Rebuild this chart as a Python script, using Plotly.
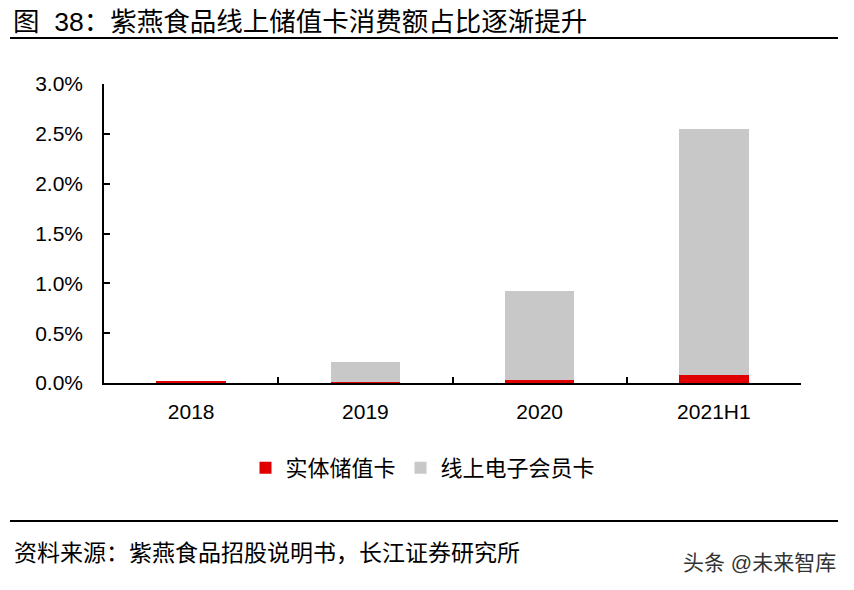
import plotly.graph_objs as go

# data (share of consumption, in %)
periods = ["2018", "2019", "2020", "2021H1"]
physical_card = [0.015, 0.015, 0.03, 0.085]     # 实体储值卡
online_card = [0.0, 0.195, 0.89, 2.465]         # 线上电子会员卡
y_ticks = [0, 0.5, 1.0, 1.5, 2.0, 2.5, 3.0]

FONT = "Liberation Sans, Arial, Noto Sans CJK SC, sans-serif"
RED = "#E00000"
GREY = "#C8C8C8"

# the page body has an 8px margin, so work in screen pixels and shift
OFF = 8
L, R, T, B = 104, 801, 84, 383
W, H = 854, 590


def px_x(x):
    return (x - L) / (R - L)


def px_y(y):
    return (B - y) / (B - T)


fig = go.Figure()
fig.add_trace(go.Bar(
    x=periods, y=[v / 100 for v in physical_card],
    name="实体储值卡", marker=dict(color=RED, line_width=0), width=0.4
))
fig.add_trace(go.Bar(
    x=periods, y=[v / 100 for v in online_card],
    name="线上电子会员卡", marker=dict(color=GREY, line_width=0), width=0.4
))

fig.update_layout(
    width=W, height=H,
    barmode="stack",
    plot_bgcolor="white", paper_bgcolor="white",
    margin=dict(l=L - OFF, r=W - R + OFF, t=T - OFF, b=H - B + OFF),
    font=dict(family=FONT, size=21, color="black"),
    title=dict(
        text="图\u00a0\u00a038：紫燕食品线上储值卡消费额占比逐渐提升",
        xref="container", yref="container",
        x=(13 - OFF) / W, y=1 - (22 - OFF) / H, xanchor="left", yanchor="middle",
        font=dict(family=FONT, size=26.5, color="black"),
    ),
    legend=dict(
        orientation="h", traceorder="normal",
        x=px_x(423), xanchor="center", y=px_y(468), yanchor="middle",
        font=dict(size=22), itemsizing="constant",
    ),
    xaxis=dict(
        type="category", showline=True, linecolor="black", linewidth=1.5,
        ticks="inside", tickson="boundaries", ticklen=6, tickcolor="black",
        tickwidth=1.5, ticklabelstandoff=9, showgrid=False,
    ),
    yaxis=dict(
        range=[0, 0.03], tickvals=[v / 100 for v in y_ticks], tickformat=".1%",
        showline=True, linecolor="black", linewidth=1.5,
        ticks="inside", ticklen=6, tickcolor="black", tickwidth=1.5,
        ticklabelstandoff=15, showgrid=False, zeroline=False,
    ),
)

# title underline and footer rule
fig.add_shape(type="line", xref="paper", yref="paper",
              x0=px_x(10), x1=px_x(838), y0=px_y(38), y1=px_y(38),
              line=dict(color="black", width=2))
fig.add_shape(type="line", xref="paper", yref="paper",
              x0=px_x(10), x1=px_x(838), y0=px_y(521), y1=px_y(521),
              line=dict(color="black", width=2))

fig.add_annotation(text="资料来源：紫燕食品招股说明书，长江证券研究所",
                   xref="paper", yref="paper", x=px_x(12), y=px_y(553),
                   xanchor="left", yanchor="middle", showarrow=False,
                   font=dict(size=23, color="black"))
fig.add_annotation(text="头条 @未来智库",
                   xref="paper", yref="paper", x=px_x(838), y=px_y(562),
                   xanchor="right", yanchor="middle", showarrow=False,
                   font=dict(size=21, color="#333333"))

fig.write_html("out.html")
